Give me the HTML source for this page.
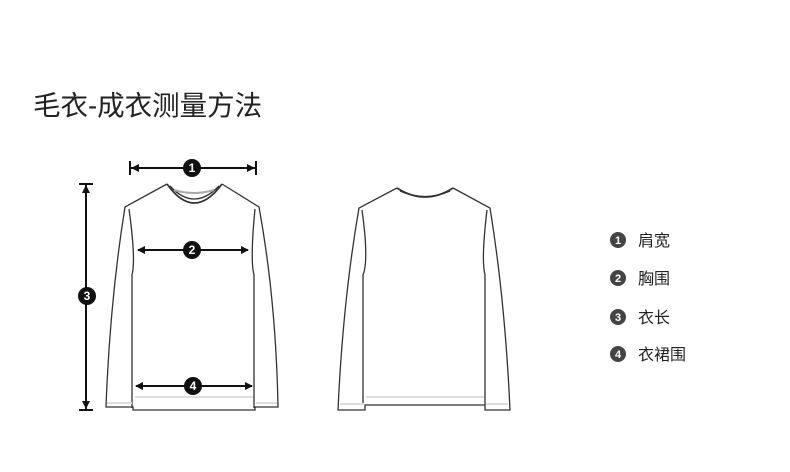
<!DOCTYPE html>
<html><head><meta charset="utf-8"><style>
body{margin:0;width:790px;height:472px;background:#fff;overflow:hidden;position:relative;font-family:"Liberation Sans","Noto Sans CJK SC",sans-serif}
.t{position:absolute;left:33px;top:83px;font-size:27.5px;color:#222;white-space:nowrap}
.l{position:absolute;left:638px;font-size:16px;color:#222;white-space:nowrap}
</style></head><body>
<div class="t">毛衣-成衣测量方法</div>
<svg width="790" height="472" style="position:absolute;left:0;top:0">
<g fill="none" stroke="#333" stroke-width="1.3">
<path d="M167,184 L125,207 Q110,300 106,407 L133,407 L133,410 L255,410 L255,407 L278,407 Q276,300 259,207 L222,184"/>
<path d="M129,209 Q136,260 132,275 L132,408 M255,209 Q250,260 254,275 L254,408"/>
<path d="M167,184 Q194,222 222,184" stroke-width="1.8"/>
<path d="M170,186 Q194,212 219,186"/>
<path d="M174,190 Q194,196 214,190" stroke="#aaa" stroke-width="2"/>
<path d="M397,188 L359,208 Q343,300 338,410 L365,410 L365,405 L485,405 L485,410 L510,410 Q505,300 490,208 L453,188"/>
<path d="M362,210 Q369,260 363,275 L363,405 M487,210 Q481,260 485,275 L485,405"/>
<path d="M397,188 Q425,206 453,188" stroke-width="1.8"/>
<path d="M400,191 Q425,202 450,191"/>
</g>
<g stroke="#ddd" stroke-width="2"><line x1="135" y1="397" x2="253" y2="397"/><line x1="107" y1="403" x2="132" y2="403"/><line x1="256" y1="403" x2="277" y2="403"/>
<line x1="366" y1="397" x2="484" y2="397"/><line x1="340" y1="404" x2="364" y2="404"/><line x1="486" y1="404" x2="508" y2="404"/></g>
<g stroke="#111" stroke-width="2" fill="#111">
<line x1="130" y1="168" x2="256" y2="168"/><line x1="130" y1="161" x2="130" y2="175"/><line x1="256" y1="161" x2="256" y2="175"/>
<path d="M131,168 l8,-4 v8z M255,168 l-8,-4 v8z" stroke="none"/>
<line x1="138" y1="250" x2="248" y2="250"/><path d="M137,250 l8,-4 v8z M249,250 l-8,-4 v8z" stroke="none"/>
<line x1="136" y1="386" x2="252" y2="386"/><path d="M135,386 l8,-4 v8z M253,386 l-8,-4 v8z" stroke="none"/>
<line x1="86" y1="184" x2="86" y2="410"/><line x1="79" y1="184" x2="93" y2="184"/><line x1="79" y1="410" x2="93" y2="410"/>
<path d="M86,185 l-4,8 h8z M86,409 l-4,-8 h8z" stroke="none"/>
</g>
<g fill="#111" font-size="12" font-weight="bold" text-anchor="middle" font-family="Liberation Sans,sans-serif">
<circle cx="192" cy="168" r="9"/><circle cx="192" cy="250" r="9"/><circle cx="87" cy="296" r="9"/><circle cx="193" cy="386" r="9"/>
<text x="192" y="172" fill="#fff">1</text><text x="192" y="254" fill="#fff">2</text><text x="87" y="300" fill="#fff">3</text><text x="193" y="390" fill="#fff">4</text>
</g>
<g fill="#444" font-size="11" font-weight="bold" text-anchor="middle" font-family="Liberation Sans,sans-serif">
<circle cx="618" cy="240" r="8"/><circle cx="618" cy="278" r="8"/><circle cx="618" cy="317" r="8"/><circle cx="618" cy="354" r="8"/>
<text x="618" y="244" fill="#fff">1</text><text x="618" y="282" fill="#fff">2</text><text x="618" y="321" fill="#fff">3</text><text x="618" y="358" fill="#fff">4</text>
</g>
</svg>
<div class="l" style="top:227px">肩宽</div>
<div class="l" style="top:265px">胸围</div>
<div class="l" style="top:304px">衣长</div>
<div class="l" style="top:341px">衣裙围</div>
</body></html>
